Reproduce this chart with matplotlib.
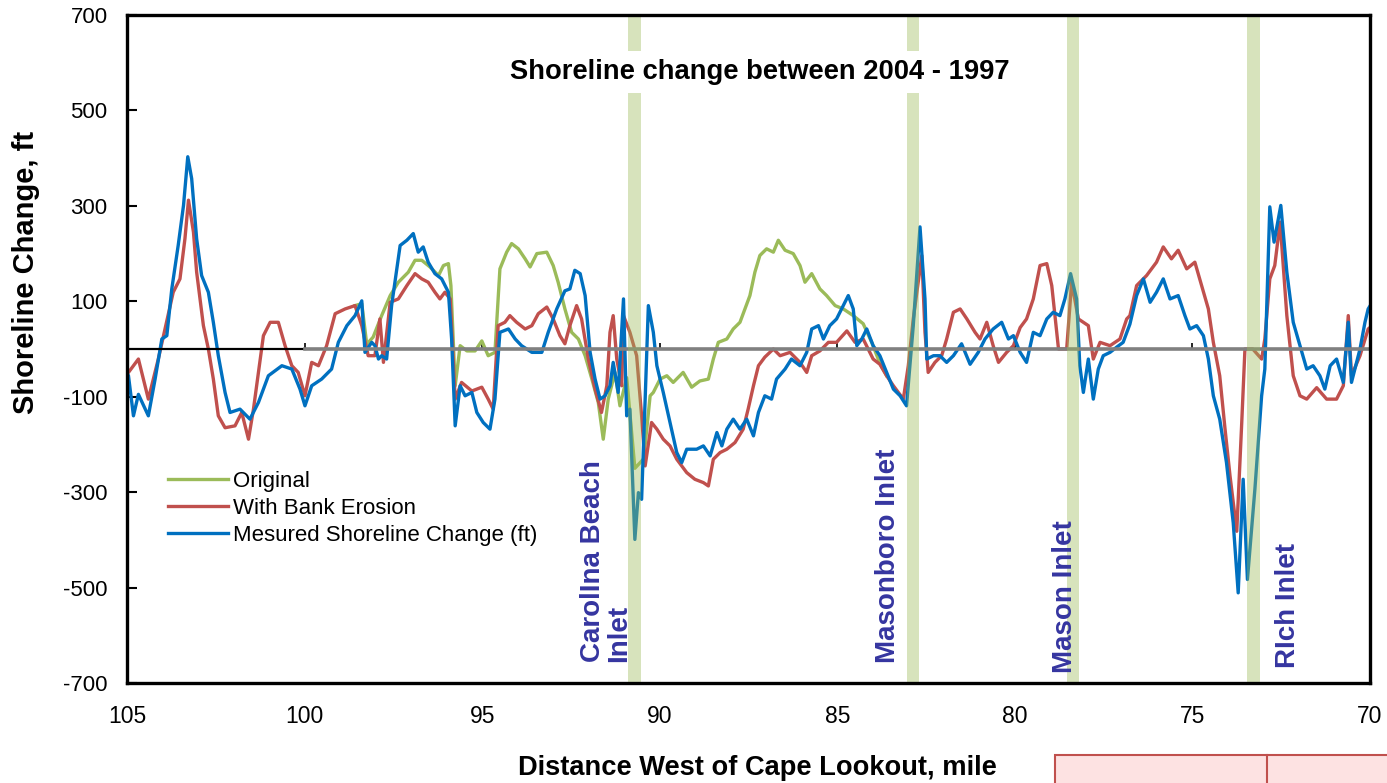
import matplotlib
matplotlib.use("Agg")
import matplotlib.pyplot as plt
from matplotlib.patches import Rectangle

plt.rcParams['font.family'] = ['Liberation Sans', 'DejaVu Sans']
plt.rcParams['axes.unicode_minus'] = False

# measured shoreline change (blue)
blue_mile = [105.0, 104.96, 104.82, 104.68, 104.4, 104.21, 104.02, 103.88, 103.74, 103.56,
             103.41, 103.29, 103.18, 103.04, 102.9, 102.71, 102.57, 102.43, 102.24, 102.1,
             101.82, 101.54, 101.3, 101.02, 100.64, 100.36, 100.13, 99.99, 99.8, 99.52,
             99.24, 99.05, 98.81, 98.58, 98.39, 98.3, 98.11, 98.02, 97.92, 97.83,
             97.69, 97.55, 97.31, 97.12, 96.94, 96.8, 96.66, 96.52, 96.33, 96.14,
             95.95, 95.86, 95.76, 95.62, 95.48, 95.29, 95.15, 94.97, 94.78, 94.64,
             94.5, 94.26, 94.07, 93.89, 93.6, 93.32, 93.14, 92.9, 92.67, 92.53,
             92.39, 92.24, 92.1, 91.96, 91.82, 91.68, 91.54, 91.4, 91.31, 91.17,
             91.02, 90.93, 90.84, 90.7, 90.6, 90.51, 90.41, 90.32, 90.18, 90.08,
             89.9, 89.71, 89.52, 89.38, 89.24, 88.96, 88.77, 88.58, 88.39, 88.25,
             88.11, 87.93, 87.74, 87.55, 87.36, 87.22, 87.04, 86.85, 86.71, 86.47,
             86.29, 86.05, 85.86, 85.72, 85.53, 85.39, 85.21, 85.02, 84.83, 84.69,
             84.55, 84.45, 84.31, 84.17, 83.99, 83.8, 83.61, 83.42, 83.23, 83.05,
             82.86, 82.67, 82.53, 82.48, 82.29, 82.11, 81.92, 81.73, 81.5, 81.26,
             81.03, 80.84, 80.61, 80.37, 80.18, 80.04, 79.85, 79.67, 79.48, 79.29,
             79.1, 78.92, 78.73, 78.59, 78.43, 78.26, 78.17, 78.07, 77.93, 77.79,
             77.65, 77.51, 77.32, 77.13, 76.95, 76.76, 76.57, 76.38, 76.19, 76.01,
             75.82, 75.63, 75.4, 75.21, 75.07, 74.88, 74.69, 74.55, 74.41, 74.23,
             74.04, 73.85, 73.71, 73.57, 73.45, 73.24, 73.05, 72.96, 72.89, 72.82,
             72.7, 72.51, 72.34, 72.16, 71.97, 71.78, 71.6, 71.41, 71.27, 71.12,
             70.94, 70.75, 70.61, 70.52, 70.28, 70.14, 70.05, 70.0]
blue_val = [-50, -56, -140, -95, -140, -63, 21, 28, 126, 217,
            301, 403, 357, 231, 154, 119, 56, -14, -91, -133,
            -126, -147, -112, -56, -35, -42, -84, -119, -77, -63,
            -42, 14, 49, 70, 101, -7, 14, 7, -21, -14,
            -21, 91, 217, 228, 242, 203, 214, 182, 158, 147,
            119, 21, -161, -77, -98, -91, -133, -154, -168, -105,
            35, 42, 21, 7, -7, -7, 35, 84, 122, 126,
            165, 158, 112, -7, -63, -105, -98, -77, -28, -91,
            105, -140, -126, -399, -301, -315, -105, 91, 35, -35,
            -91, -154, -217, -238, -210, -210, -203, -224, -175, -203,
            -168, -147, -168, -147, -182, -133, -98, -105, -63, -42,
            -21, -35, -7, 42, 49, 21, 49, 63, 91, 112,
            84, 7, 21, 42, 7, -14, -49, -84, -98, -119,
            49, 256, 105, -21, -14, -14, -28, -14, 11, -32,
            -7, 21, 42, 56, 21, 28, -7, -28, 35, 28,
            63, 77, 70, 105, 158, 105, -35, -91, -21, -105,
            -42, -14, -7, 4, 14, 52, 112, 147, 98, 119,
            147, 105, 112, 70, 42, 49, 28, -21, -98, -147,
            -238, -364, -511, -273, -483, -294, -98, -42, 126, 298,
            224, 301, 161, 56, 7, -42, -35, -56, -84, -35,
            -21, -70, 56, -70, 0, 56, 84, 90]

# model with bank erosion (red)
red_mile = [105.0, 104.96, 104.68, 104.4, 104.12, 103.93, 103.7, 103.51, 103.37, 103.27,
            103.13, 103.04, 102.85, 102.71, 102.57, 102.43, 102.24, 101.96, 101.77, 101.58,
            101.44, 101.3, 101.16, 100.97, 100.74, 100.55, 100.36, 100.18, 99.99, 99.8,
            99.61, 99.38, 99.14, 98.86, 98.58, 98.39, 98.21, 98.02, 97.88, 97.78,
            97.59, 97.36, 97.12, 96.89, 96.7, 96.52, 96.33, 96.19, 96.05, 95.9,
            95.76, 95.58, 95.29, 95.01, 94.83, 94.69, 94.55, 94.36, 94.22, 94.03,
            93.79, 93.6, 93.42, 93.18, 93.0, 92.81, 92.67, 92.53, 92.34, 92.2,
            92.01, 91.82, 91.64, 91.49, 91.4, 91.31, 91.21, 91.07, 91.02, 90.84,
            90.65, 90.51, 90.41, 90.23, 90.08, 89.9, 89.71, 89.52, 89.24, 89.01,
            88.77, 88.63, 88.49, 88.3, 88.11, 87.88, 87.65, 87.51, 87.36, 87.22,
            87.04, 86.8, 86.61, 86.33, 86.05, 85.86, 85.72, 85.49, 85.25, 85.02,
            84.73, 84.5, 84.27, 83.99, 83.8, 83.61, 83.42, 83.14, 83.0, 82.86,
            82.62, 82.53, 82.44, 82.25, 82.06, 81.92, 81.73, 81.54, 81.35, 81.12,
            80.98, 80.79, 80.61, 80.46, 80.23, 80.04, 79.85, 79.67, 79.48, 79.29,
            79.1, 78.96, 78.87, 78.77, 78.54, 78.4, 78.21, 78.07, 77.93, 77.79,
            77.6, 77.32, 77.04, 76.85, 76.76, 76.57, 76.29, 76.01, 75.82, 75.59,
            75.4, 75.16, 74.93, 74.74, 74.55, 74.41, 74.23, 74.08, 73.94, 73.75,
            73.61, 73.52, 73.3, 73.05, 72.96, 72.82, 72.68, 72.53, 72.34, 72.16,
            71.97, 71.78, 71.5, 71.22, 70.94, 70.75, 70.61, 70.52, 70.28, 70.05, 70.0]
red_val = [-45, -49, -21, -105, -21, 42, 119, 147, 231, 312,
           245, 161, 49, 0, -63, -140, -165, -161, -133, -189,
           -126, -49, 28, 56, 56, 7, -35, -49, -98, -28,
           -35, 7, 74, 84, 91, 49, -14, -14, 63, -28,
           98, 105, 133, 158, 147, 140, 119, 105, 119, 105,
           -105, -70, -88, -80, -105, -126, 49, 56, 70, 56,
           42, 49, 74, 88, 63, 28, 11, 49, 91, 63,
           -21, -84, -133, -77, 35, 70, -21, -77, 70, 35,
           -14, -140, -245, -154, -168, -189, -203, -231, -259, -273,
           -280, -287, -231, -217, -210, -196, -168, -126, -77, -35,
           -17, 0, -14, -7, -28, -49, -14, -4, 14, 14,
           38, 14, 21, -21, -32, -56, -77, -105, -35, 63,
           196, 35, -49, -28, -14, 21, 77, 84, 63, 35,
           21, 56, 7, -28, -7, 7, 45, 63, 105, 175,
           179, 133, 70, 0, 0, 140, 63, 56, 49, -21,
           14, 7, 21, 63, 70, 133, 154, 182, 214, 189,
           207, 168, 182, 133, 84, 14, -56, -168, -266, -382,
           -154, 0, 0, -21, 21, 147, 175, 266, 70, -56,
           -98, -105, -81, -105, -105, -77, 70, -56, -14, 42, 45]

# original model (green), where it separates from the bank erosion run
green_mile = [98.58, 98.39, 98.25, 98.07, 97.83, 97.59, 97.36, 97.08, 96.89, 96.7,
              96.47, 96.23, 96.09, 95.95, 95.88, 95.76, 95.62, 95.43, 95.2, 95.01,
              94.83, 94.64, 94.5, 94.31, 94.17, 93.98, 93.79, 93.65, 93.46, 93.18,
              93.0, 92.86, 92.67, 92.48, 92.29, 92.1, 91.91, 91.73, 91.59, 91.45,
              91.26, 91.12, 90.93, 90.7, 90.45, 90.27, 90.18, 89.99, 89.8, 89.62,
              89.34, 89.1, 88.87, 88.63, 88.49, 88.35, 88.11, 87.93, 87.74, 87.6,
              87.46, 87.32, 87.18, 86.99, 86.8, 86.66, 86.47, 86.24, 86.05, 85.91,
              85.72, 85.49, 85.3, 85.06, 84.83, 84.55, 84.27, 84.03, 83.8, 83.61]
green_val = [91, 95, 10, 25, 70, 112, 140, 161, 186, 186,
             172, 154, 175, 179, 133, -77, 7, -4, -4, 17,
             -14, -7, 168, 203, 221, 210, 189, 172, 200, 203,
             175, 140, 84, 35, 21, -14, -63, -112, -189, -105,
             -49, -119, -60, -250, -230, -98, -91, -63, -56, -70,
             -49, -80, -67, -63, -21, 14, 21, 42, 56, 84,
             112, 161, 196, 210, 203, 228, 207, 200, 175, 140,
             158, 126, 112, 91, 84, 70, 53, 14, -30, -56]

inlet_mile = [90.70, 82.87, 78.36, 73.29]
inlet_names = ['CarolIna Beach\nInlet', 'Masonboro Inlet', 'Mason Inlet', 'RIch Inlet']
label_mile = [91.52, 83.57, 78.6, 72.31]
label_base = [-655, -658, -680, -668]

xticks = list(range(105, 69, -5))
yticks = list(range(-700, 701, 200))

fig = plt.figure(figsize=(13.87, 7.83), dpi=100)
ax = fig.add_axes([0.0916, 0.1277, 0.8961, 0.8531])

ax.plot(green_mile, green_val, color='#9bbb59', lw=2.4, zorder=2, label='Original')
ax.plot(red_mile, red_val, color='#c0504d', lw=2.4, zorder=3, label='With Bank Erosion')
ax.plot(blue_mile, blue_val, color='#0070c0', lw=2.4, zorder=4,
        label='Mesured Shoreline Change (ft)')

# zero line: black stub then gray, small marks every 5 miles
ax.vlines(xticks[1:-1], 0, 12, color='black', lw=1.2, zorder=1)
ax.plot([105, 100], [0, 0], color='black', lw=1.6, zorder=4.5)
ax.plot([100, 70], [0, 0], color='#808080', lw=2.6, zorder=4.5)

for m in inlet_mile:
    ax.axvspan(m - 0.18, m + 0.18, color='#9bbb59', alpha=0.4, lw=0, zorder=5)

for m, yb, name in zip(label_mile, label_base, inlet_names):
    ax.text(m, yb, name, rotation=90, ha='center', va='bottom', multialignment='left',
            fontsize=20, fontweight='bold', color='#3535a0', zorder=6, linespacing=1.0)

ax.text(0.509, 0.915, 'Shoreline change between 2004 - 1997', transform=ax.transAxes,
        ha='center', va='center', fontsize=19.7, fontweight='bold', zorder=7,
        bbox=dict(facecolor='white', edgecolor='none', pad=6))

ax.set_xlim(105, 70)
ax.set_ylim(-700, 700)
ax.set_xticks(xticks)
ax.set_yticks(yticks)
ax.tick_params(axis='y', direction='in', length=7, width=1.5, pad=14, labelsize=16)
ax.tick_params(axis='x', length=0, pad=16, labelsize=16.5)
for s in ax.spines.values():
    s.set_linewidth(2.4)
    s.set_zorder(8)

ax.legend(loc='upper left', bbox_to_anchor=(0.033, 0.318), frameon=False, fontsize=16,
          handlelength=2.7, handletextpad=0.2, labelspacing=0.27, borderpad=0,
          borderaxespad=0)

fig.text(0.019, 0.6526, 'Shoreline Change, ft', rotation=90, fontsize=21,
         fontweight='bold', ha='center', va='center')
fig.text(0.5458, 0.0192, 'Distance West of Cape Lookout, mile', fontsize=19.6,
         fontweight='bold', ha='center', va='center')

# spreadsheet cell peeking in at the bottom right
fig.add_artist(Rectangle((1055 / 1387, -0.01), 0.3, 28 / 783 + 0.01, transform=fig.transFigure,
                         facecolor='#fde2e2', edgecolor='#c0504d', lw=1.5))
fig.add_artist(plt.Line2D([1267 / 1387] * 2, [0, 28 / 783], transform=fig.transFigure,
                          color='#c0504d', lw=1.5))

fig.savefig('out.png', dpi=100)
